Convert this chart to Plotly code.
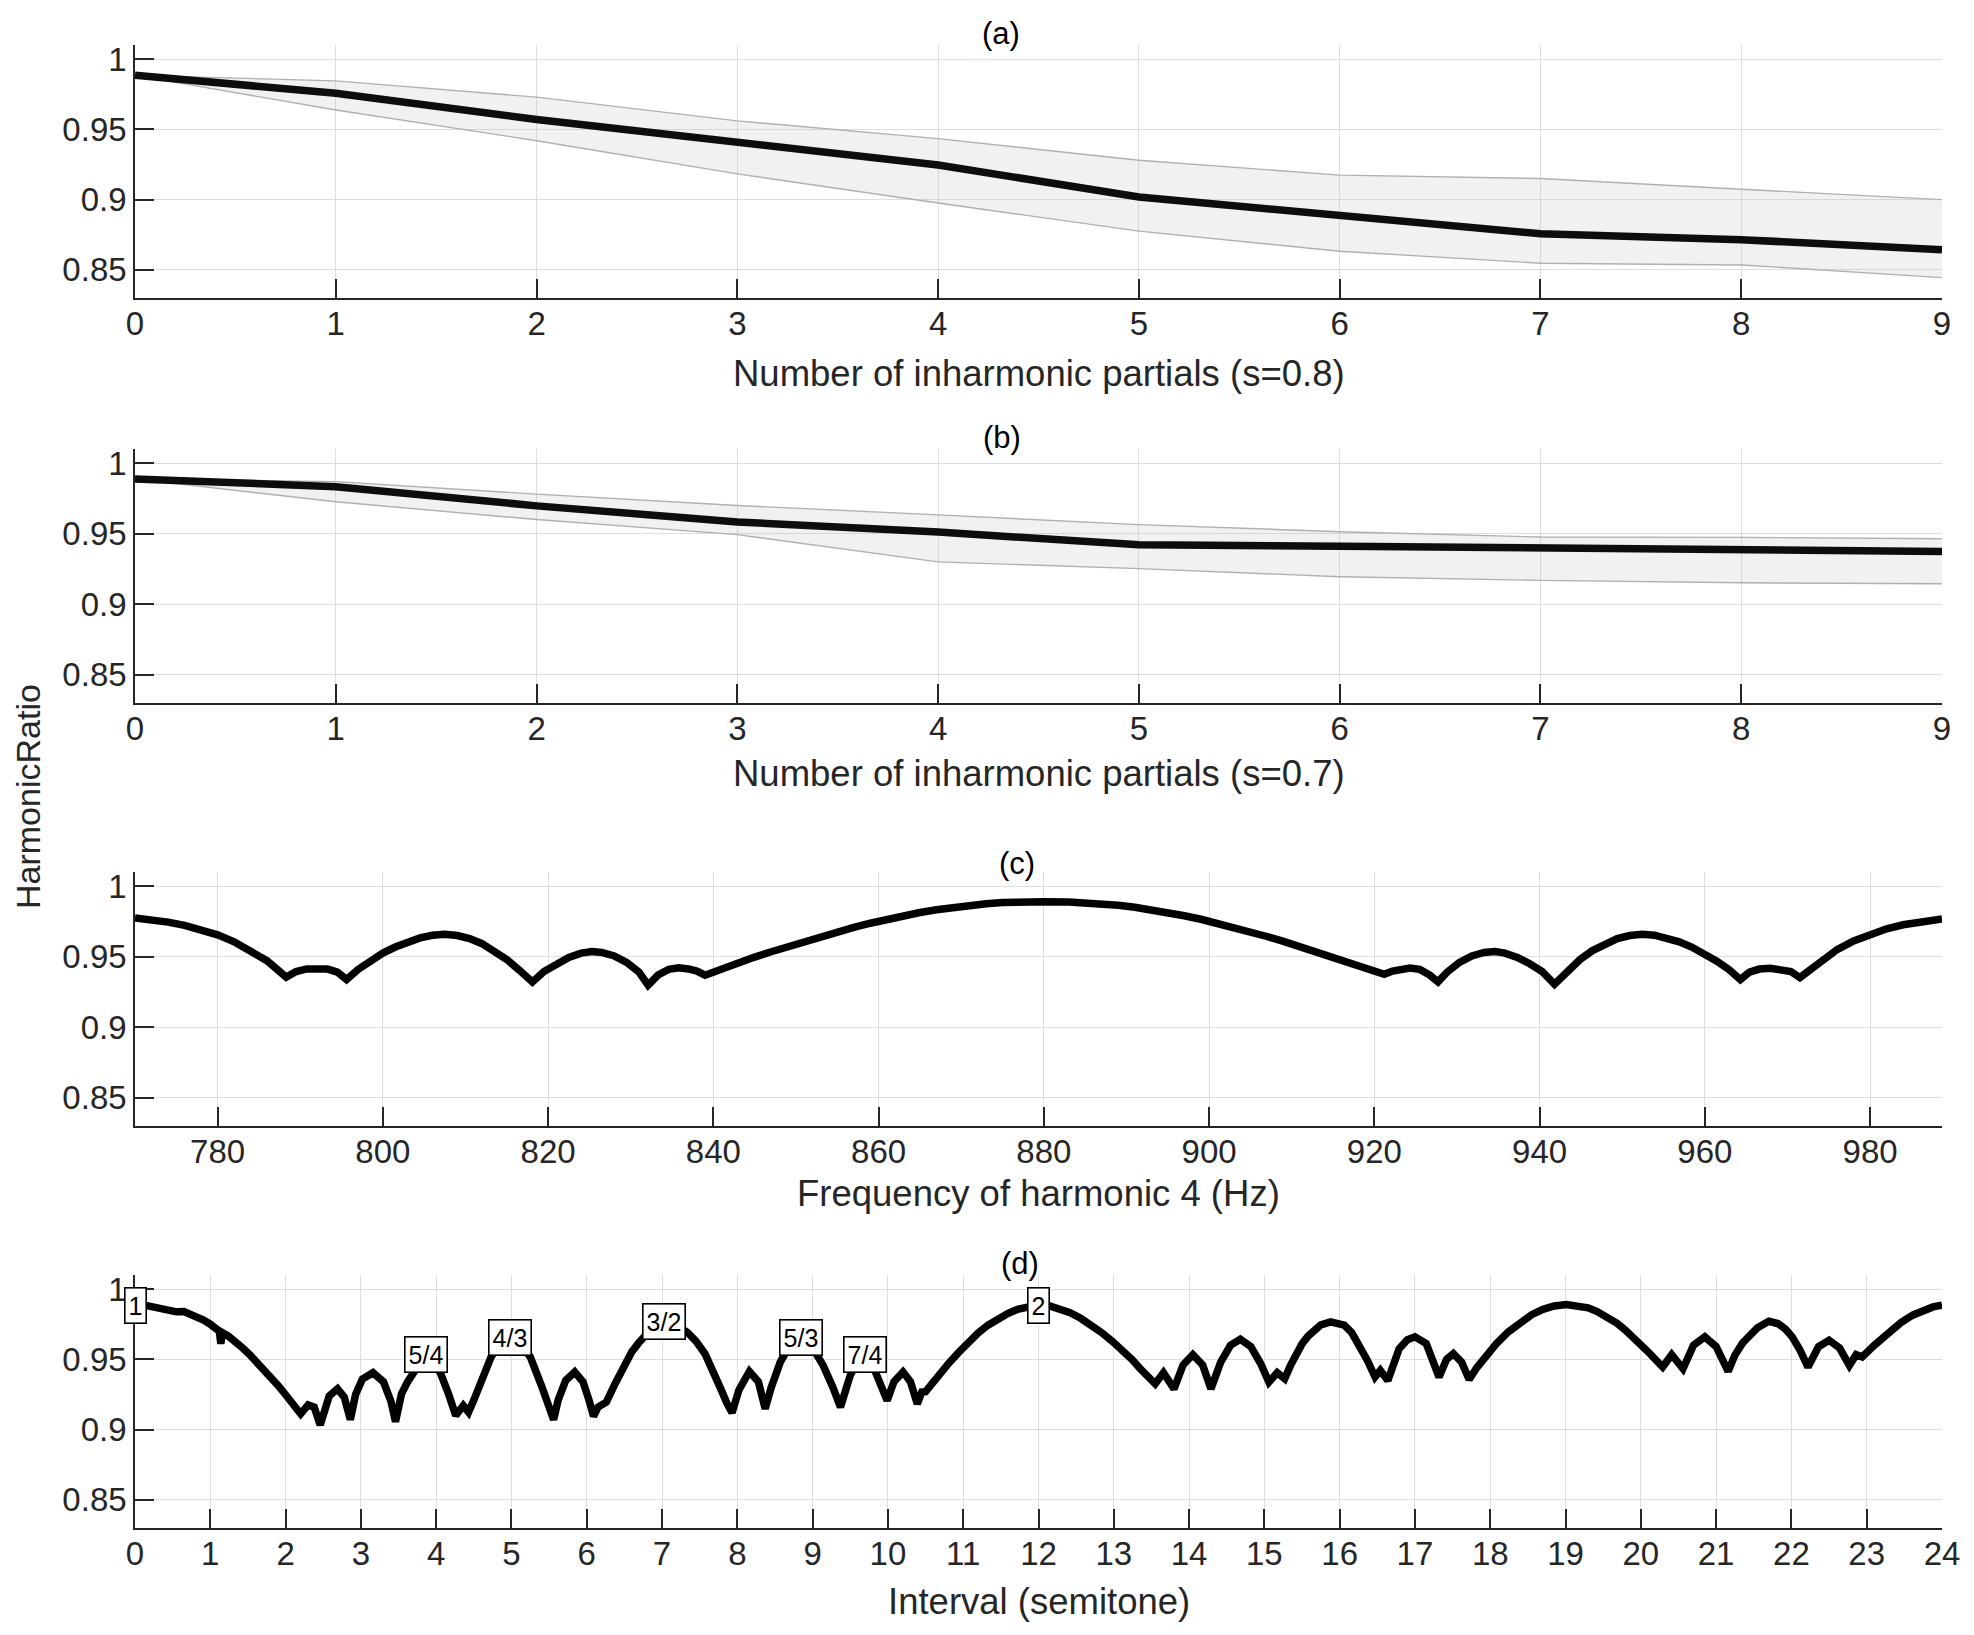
import plotly.graph_objects as go

# ---------------- data ----------------
partials = [0, 1, 2, 3, 4, 5, 6, 7, 8, 9]

a_mean  = [0.9884, 0.9757, 0.9570, 0.9407, 0.9246, 0.9019, 0.8888, 0.8757, 0.8715, 0.8643]
a_upper = [0.9884, 0.9845, 0.9729, 0.9560, 0.9434, 0.9280, 0.9174, 0.9150, 0.9074, 0.9000]
a_lower = [0.9884, 0.9638, 0.9419, 0.9183, 0.8976, 0.8776, 0.8633, 0.8547, 0.8535, 0.8445]

b_mean  = [0.9888, 0.9833, 0.9697, 0.9583, 0.9511, 0.9421, 0.9411, 0.9397, 0.9390, 0.9374]
b_upper = [0.9888, 0.9869, 0.9780, 0.9700, 0.9633, 0.9564, 0.9514, 0.9476, 0.9474, 0.9464]
b_lower = [0.9888, 0.9726, 0.9600, 0.9493, 0.9300, 0.9252, 0.9195, 0.9169, 0.9152, 0.9145]

c_freq = [770, 772, 774, 776, 778, 780, 782, 784, 786, 788.3,
          789.5, 790.8, 792, 793.3, 794.5, 795.6,
          797, 798.5, 800, 801.5, 803, 804.5, 806, 807.5, 809, 810.5, 812, 813.5, 815, 816.5, 818.1,
          819.5, 821, 822.5, 824, 825.3, 826.5, 828, 829.5, 831, 832.1,
          833.3, 834.6, 835.8, 837, 838, 839,
          841, 843, 845, 847, 849, 851, 853, 855, 857, 859, 861, 863, 865, 867, 869, 871, 873, 875,
          877, 880, 883, 885, 887, 889, 891, 893, 895, 897, 899, 901, 903, 905, 907, 909, 911, 913,
          915, 917, 919, 921.2,
          922.2, 923.2, 924.3, 925.5, 926.7, 927.7,
          928.8, 930.3, 931.8, 933.3, 934.6, 935.8, 937.3, 938.8, 940.3, 941.8,
          943.4, 944.9, 946.4, 947.9, 949.4, 950.9, 952.4, 953.9, 955.4, 956.9, 958.4, 959.9,
          961.4, 962.9, 964.3,
          965.4, 966.6, 967.9, 969.1, 970.4, 971.5,
          974, 976, 978, 980, 982, 984, 986, 988.7]
c_val = [0.9774, 0.9763, 0.9745, 0.9722, 0.9692, 0.9655, 0.9605, 0.9545, 0.9470, 0.9355,
         0.9395, 0.9413, 0.9418, 0.9412, 0.9390, 0.9338,
         0.9410, 0.9470, 0.9525, 0.9568, 0.9605, 0.9633, 0.9652, 0.9658, 0.9650, 0.9628, 0.9592,
         0.9543, 0.9480, 0.9405, 0.9321,
         0.9395, 0.9450, 0.9495, 0.9525, 0.9536, 0.9530, 0.9505, 0.9460, 0.9390, 0.9298,
         0.9370, 0.9410, 0.9421, 0.9413, 0.9398, 0.9369,
         0.9415, 0.9458, 0.9497, 0.9535, 0.9572, 0.9608, 0.9643, 0.9676, 0.9707, 0.9737, 0.9765,
         0.9790, 0.9813, 0.9833, 0.9850, 0.9864, 0.9875, 0.9883,
         0.9888, 0.9890, 0.9888, 0.9883, 0.9875, 0.9864, 0.9850, 0.9833, 0.9813, 0.9790, 0.9765,
         0.9737, 0.9707, 0.9676, 0.9643, 0.9608, 0.9572, 0.9535,
         0.9497, 0.9458, 0.9415, 0.9375,
         0.9398, 0.9413, 0.9420, 0.9410, 0.9370, 0.9321,
         0.9390, 0.9460, 0.9505, 0.9530, 0.9536, 0.9525, 0.9495, 0.9450, 0.9395, 0.9305,
         0.9405, 0.9480, 0.9543, 0.9592, 0.9628, 0.9650, 0.9658, 0.9652, 0.9633, 0.9605, 0.9568,
         0.9525, 0.9470, 0.9410, 0.9338,
         0.9390, 0.9412, 0.9418, 0.9413, 0.9395, 0.9352,
         0.9470, 0.9550, 0.9612, 0.9662, 0.9698, 0.9726, 0.9747, 0.9767]

d_semi = [0.00, 0.10, 0.20, 0.30, 0.39, 0.50, 0.55, 0.65, 0.80, 0.91, 1.00, 1.09, 1.12, 1.14,
          1.16, 1.24, 1.32, 1.42, 1.53, 1.66, 1.79, 1.90, 1.99, 2.10, 2.20, 2.30, 2.38, 2.46,
          2.52, 2.58, 2.69, 2.78, 2.86, 2.93, 3.02, 3.16, 3.30, 3.40, 3.46, 3.50, 3.54, 3.62,
          3.70, 3.78, 3.86, 3.96, 4.06, 4.16, 4.26, 4.36, 4.43, 4.50, 4.58, 4.73, 4.85, 4.98,
          5.12, 5.25, 5.40, 5.50, 5.56, 5.62, 5.72, 5.84, 5.95, 6.03, 6.09, 6.15, 6.26, 6.38,
          6.49, 6.60, 6.70, 6.85, 7.02, 7.18, 7.34, 7.45, 7.57, 7.68, 7.78, 7.86, 7.93, 8.02,
          8.16, 8.28, 8.37, 8.45, 8.57, 8.70, 8.84, 8.98, 9.14, 9.27, 9.37, 9.45, 9.50, 9.60,
          9.69, 9.78, 9.88, 9.99, 10.08, 10.20, 10.30, 10.39, 10.45, 10.50, 10.53, 10.65,
          10.82, 10.95, 11.07, 11.20, 11.33, 11.46, 11.59, 11.72, 11.86, 12.00, 12.15, 12.28,
          12.42, 12.56, 12.70, 12.84, 12.98, 13.14, 13.25, 13.35, 13.45, 13.55, 13.66, 13.80,
          13.92, 14.05, 14.18, 14.29, 14.42, 14.55, 14.68, 14.82, 14.95, 15.06, 15.17, 15.27,
          15.35, 15.42, 15.50, 15.58, 15.66, 15.75, 15.88, 15.98, 16.06, 16.16, 16.27, 16.37,
          16.47, 16.54, 16.64, 16.79, 16.90, 17.00, 17.15, 17.32, 17.42, 17.51, 17.62, 17.72,
          17.82, 17.93, 18.08, 18.24, 18.40, 18.55, 18.70, 18.85, 19.01, 19.16, 19.30, 19.42,
          19.55, 19.68, 19.79, 19.95, 20.10, 20.20, 20.29, 20.41, 20.56, 20.70, 20.85, 21.00,
          21.16, 21.25, 21.35, 21.44, 21.55, 21.70, 21.82, 21.92, 22.01, 22.11, 22.22, 22.36,
          22.50, 22.64, 22.77, 22.86, 22.94, 23.10, 23.30, 23.45, 23.61, 23.75, 23.88, 24.00]
d_val = [0.9900, 0.9888, 0.9880, 0.9870, 0.9862, 0.9850, 0.9838, 0.9840, 0.9810, 0.9779,
         0.9750, 0.9719, 0.9700, 0.9610, 0.9690, 0.9665, 0.9636, 0.9585, 0.9529, 0.9460,
         0.9386, 0.9315, 0.9255, 0.9185, 0.9112, 0.9176, 0.9160, 0.9033, 0.9160, 0.9240,
         0.9290, 0.9230, 0.9071, 0.9250, 0.9360, 0.9405, 0.9340, 0.9200, 0.9057, 0.9180,
         0.9255, 0.9340, 0.9410, 0.9490, 0.9535, 0.9490, 0.9398, 0.9260, 0.9100, 0.9171,
         0.9124, 0.9210, 0.9314, 0.9517, 0.9620, 0.9657, 0.9610, 0.9517, 0.9310, 0.9160,
         0.9071, 0.9210, 0.9350, 0.9410, 0.9340, 0.9210, 0.9095, 0.9160, 0.9195, 0.9330,
         0.9457, 0.9555, 0.9624, 0.9710, 0.9760, 0.9745, 0.9690, 0.9630, 0.9540, 0.9420,
         0.9290, 0.9190, 0.9120, 0.9280, 0.9414, 0.9340, 0.9148, 0.9300, 0.9480, 0.9600,
         0.9657, 0.9600, 0.9457, 0.9300, 0.9160, 0.9300, 0.9386, 0.9490, 0.9535, 0.9480,
         0.9360, 0.9207, 0.9340, 0.9410, 0.9340, 0.9183, 0.9267, 0.9270, 0.9290, 0.9375,
         0.9480, 0.9555, 0.9624, 0.9688, 0.9743, 0.9787, 0.9826, 0.9855, 0.9876, 0.9888,
         0.9880, 0.9862, 0.9832, 0.9792, 0.9745, 0.9690, 0.9628, 0.9552, 0.9495, 0.9433,
         0.9380, 0.9326, 0.9405, 0.9290, 0.9460, 0.9533, 0.9460, 0.9290, 0.9480, 0.9600,
         0.9643, 0.9590, 0.9470, 0.9338, 0.9405, 0.9362, 0.9460, 0.9540, 0.9610, 0.9665,
         0.9710, 0.9745, 0.9767, 0.9760, 0.9743, 0.9690, 0.9590, 0.9490, 0.9374, 0.9421,
         0.9350, 0.9576, 0.9640, 0.9660, 0.9612, 0.9374, 0.9500, 0.9540, 0.9480, 0.9357,
         0.9440, 0.9517, 0.9610, 0.9695, 0.9765, 0.9818, 0.9856, 0.9880, 0.9890, 0.9884,
         0.9866, 0.9840, 0.9804, 0.9758, 0.9710, 0.9635, 0.9552, 0.9495, 0.9445, 0.9533,
         0.9433, 0.9600, 0.9660, 0.9590, 0.9414, 0.9530, 0.9615, 0.9665, 0.9725, 0.9771,
         0.9755, 0.9715, 0.9660, 0.9570, 0.9445, 0.9590, 0.9636, 0.9580, 0.9457, 0.9533,
         0.9517, 0.9600, 0.9695, 0.9760, 0.9814, 0.9850, 0.9873, 0.9886]

ratio_labels = ["1", "5/4", "4/3", "3/2", "5/3", "7/4", "2"]
ratio_semi   = [0.0, 3.86, 4.98, 7.02, 8.84, 9.69, 12.0]
ratio_val    = [0.9886, 0.9535, 0.9657, 0.9770, 0.9657, 0.9535, 0.9886]

y_ticks = [0.85, 0.9, 0.95, 1.0]
y_ticktext = ["0.85", "0.9", "0.95", "1"]
c_ticks = [780, 800, 820, 840, 860, 880, 900, 920, 940, 960, 980]
d_ticks = list(range(0, 25))

panel_titles = ["(a)", "(b)", "(c)", "(d)"]
x_labels = ["Number of inharmonic partials (s=0.8)", "Number of inharmonic partials (s=0.7)",
            "Frequency of harmonic 4 (Hz)", "Interval (semitone)"]
y_label = "HarmonicRatio"

# ---------------- layout geometry (page pixels) ----------------
W, H = 1974, 1635
BODY = 8  # default page margin around the plot div
L, R, T, B = 135, 1942, 45, 1528
panels_px = [(45, 298), (449, 703), (872, 1126), (1275, 1528)]
title_px = [(1001, 33), (1002, 437), (1017, 863), (1020, 1263)]
xlabel_py = [373, 773, 1193, 1601]


def py(Y):
    return (B - Y) / (B - T)


def px(X):
    return (X - L) / (R - L)


FONT = "Liberation Sans, Arial, Helvetica, sans-serif"
TXT = "#262626"
GRID = "#dedede"

fig = go.Figure()

fill_col = "rgba(180,180,180,0.18)"
edge_col = "#b0b0b0"
LW = 7.5

for i, (up, lo, mn) in enumerate([(a_upper, a_lower, a_mean), (b_upper, b_lower, b_mean)]):
    xa = "x" if i == 0 else "x2"
    ya = "y" if i == 0 else "y2"
    fig.add_trace(go.Scatter(x=partials, y=up, mode="lines", line=dict(color=edge_col, width=1.4),
                             xaxis=xa, yaxis=ya, showlegend=False, hoverinfo="skip"))
    fig.add_trace(go.Scatter(x=partials, y=lo, mode="lines", line=dict(color=edge_col, width=1.4),
                             fill="tonexty", fillcolor=fill_col,
                             xaxis=xa, yaxis=ya, showlegend=False, hoverinfo="skip"))
    fig.add_trace(go.Scatter(x=partials, y=mn, mode="lines", line=dict(color="#0d0d0d", width=LW),
                             xaxis=xa, yaxis=ya, showlegend=False))

fig.add_trace(go.Scatter(x=c_freq, y=c_val, mode="lines", line=dict(color="#000000", width=LW),
                         xaxis="x3", yaxis="y3", showlegend=False))
fig.add_trace(go.Scatter(x=d_semi, y=d_val, mode="lines", line=dict(color="#000000", width=LW),
                         xaxis="x4", yaxis="y4", showlegend=False))

axis_common = dict(showline=True, linecolor=TXT, linewidth=1.6, mirror=False,
                   ticks="inside", ticklen=19, tickwidth=1.5, tickcolor=TXT,
                   showgrid=True, gridcolor=GRID, gridwidth=1.2, zeroline=False,
                   tickfont=dict(family=FONT, size=33, color=TXT))

xranges = [[0, 9], [0, 9], [770, 988.7], [0, 24]]
xticks = [partials, partials, c_ticks, d_ticks]
layout = {}
for i in range(4):
    k = "" if i == 0 else str(i + 1)
    top, bot = panels_px[i]
    layout["xaxis" + k] = dict(axis_common, domain=[0, 1], range=xranges[i], tickvals=xticks[i],
                               anchor="y" + k, ticklabelstandoff=-4)
    layout["yaxis" + k] = dict(axis_common, domain=[py(bot), py(top)], range=[0.83, 1.01],
                               tickvals=y_ticks, ticktext=y_ticktext, anchor="x" + k,
                               ticklabelstandoff=0)

annotations = []
for i in range(4):
    annotations.append(dict(text=panel_titles[i], x=px(title_px[i][0]), y=py(title_px[i][1]),
                            xref="paper", yref="paper", showarrow=False, xanchor="center",
                            yanchor="middle", font=dict(family=FONT, size=31, color="#000000")))
    annotations.append(dict(text=x_labels[i], x=0.5, y=py(xlabel_py[i]), xref="paper", yref="paper",
                            showarrow=False, xanchor="center", yanchor="middle",
                            font=dict(family=FONT, size=36.5, color=TXT)))
annotations.append(dict(text=y_label, x=px(28), y=py(797), xref="paper", yref="paper",
                        showarrow=False, textangle=-90, xanchor="center", yanchor="middle",
                        font=dict(family=FONT, size=34, color=TXT)))
for lab, sx, sv in zip(ratio_labels, ratio_semi, ratio_val):
    annotations.append(dict(text=lab, x=sx, y=sv, xref="x4", yref="y4", showarrow=False,
                            xanchor="center", yanchor="middle", bgcolor="white",
                            bordercolor="#000000", borderwidth=1.6, borderpad=3,
                            font=dict(family=FONT, size=25, color="#000000")))

fig.update_layout(width=W, height=H,
                  margin=dict(l=L - BODY, r=W - (R - BODY), t=T - BODY, b=H - (B - BODY), pad=0),
                  paper_bgcolor="white", plot_bgcolor="white", annotations=annotations,
                  **layout)

fig.write_html("out.html")
